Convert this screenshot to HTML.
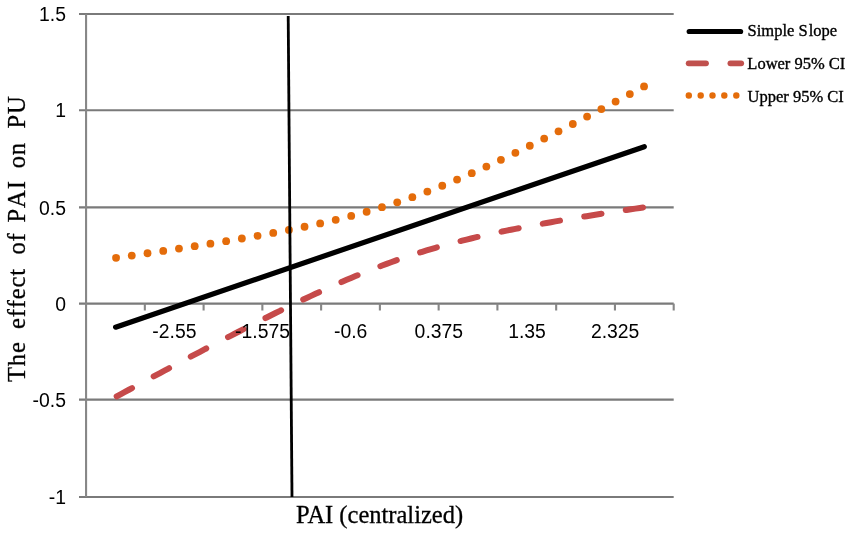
<!DOCTYPE html>
<html><head><meta charset="utf-8"><style>
html,body{margin:0;padding:0;background:#fff;}
body{width:851px;height:536px;overflow:hidden;}
svg{display:block;will-change:transform;}
.ax{font-family:"Liberation Sans",sans-serif;font-size:20.3px;fill:#000;}
.lg{font-family:"Liberation Serif",serif;font-size:16.5px;fill:#000;stroke:#000;stroke-width:0.35px;}
.ti{font-family:"Liberation Serif",serif;font-size:24.3px;fill:#000;stroke:#000;stroke-width:0.3px;}
.yt{letter-spacing:0.8px;font-kerning:none;font-size:24.6px}
</style></head><body>
<svg width="851" height="536" viewBox="0 0 851 536">
<rect width="851" height="536" fill="#fff"/>
<line x1="79" y1="13.97" x2="673.7" y2="13.97" stroke="#7a7a7a" stroke-width="2.1"/>
<line x1="79" y1="110.32" x2="673.7" y2="110.32" stroke="#7a7a7a" stroke-width="2.1"/>
<line x1="79" y1="207.41" x2="673.7" y2="207.41" stroke="#7a7a7a" stroke-width="2.1"/>
<line x1="79" y1="303.6" x2="673.7" y2="303.6" stroke="#7a7a7a" stroke-width="2.1"/>
<line x1="79" y1="399.66" x2="673.7" y2="399.66" stroke="#7a7a7a" stroke-width="2.1"/>
<line x1="79" y1="497.0" x2="673.7" y2="497.0" stroke="#7a7a7a" stroke-width="2.1"/>
<line x1="86.07" y1="13.97" x2="86.07" y2="497.0" stroke="#878787" stroke-width="2.1"/>
<line x1="144.83" y1="303.6" x2="144.83" y2="310.5" stroke="#878787" stroke-width="2.1"/>
<line x1="203.60" y1="303.6" x2="203.60" y2="310.5" stroke="#878787" stroke-width="2.1"/>
<line x1="262.36" y1="303.6" x2="262.36" y2="310.5" stroke="#878787" stroke-width="2.1"/>
<line x1="321.12" y1="303.6" x2="321.12" y2="310.5" stroke="#878787" stroke-width="2.1"/>
<line x1="379.89" y1="303.6" x2="379.89" y2="310.5" stroke="#878787" stroke-width="2.1"/>
<line x1="438.65" y1="303.6" x2="438.65" y2="310.5" stroke="#878787" stroke-width="2.1"/>
<line x1="497.41" y1="303.6" x2="497.41" y2="310.5" stroke="#878787" stroke-width="2.1"/>
<line x1="556.17" y1="303.6" x2="556.17" y2="310.5" stroke="#878787" stroke-width="2.1"/>
<line x1="614.94" y1="303.6" x2="614.94" y2="310.5" stroke="#878787" stroke-width="2.1"/>
<line x1="673.70" y1="303.6" x2="673.70" y2="310.5" stroke="#878787" stroke-width="2.1"/>
<path d="M115.60,396.95 L120.04,394.55 L124.49,392.15 L128.93,389.75 L133.37,387.35 L137.81,384.95 L142.26,382.56 L146.70,380.17 L151.14,377.79 L155.59,375.40 L160.03,373.02 L164.47,370.65 L168.91,368.27 L173.36,365.91 L177.80,363.54 L182.24,361.18 L186.69,358.82 L191.13,356.47 L195.57,354.13 L200.01,351.78 L204.46,349.45 L208.90,347.12 L213.34,344.79 L217.79,342.47 L222.23,340.16 L226.67,337.85 L231.11,335.55 L235.56,333.26 L240.00,330.98 L244.44,328.70 L248.89,326.43 L253.33,324.17 L257.77,321.92 L262.21,319.68 L266.66,317.45 L271.10,315.24 L275.54,313.03 L279.99,310.83 L284.43,308.65 L288.87,306.48 L293.31,304.33 L297.76,302.19 L302.20,300.06 L306.64,297.96 L311.09,295.87 L315.53,293.79 L319.97,291.74 L324.41,289.71 L328.86,287.69 L333.30,285.70 L337.74,283.74 L342.19,281.79 L346.63,279.87 L351.07,277.98 L355.51,276.11 L359.96,274.27 L364.40,272.46 L368.84,270.68 L373.29,268.93 L377.73,267.21 L382.17,265.52 L386.61,263.86 L391.06,262.24 L395.50,260.65 L399.94,259.09 L404.39,257.56 L408.83,256.07 L413.27,254.61 L417.71,253.19 L422.16,251.80 L426.60,250.44 L431.04,249.11 L435.49,247.81 L439.93,246.54 L444.37,245.31 L448.81,244.10 L453.26,242.92 L457.70,241.77 L462.14,240.64 L466.59,239.54 L471.03,238.46 L475.47,237.41 L479.91,236.38 L484.36,235.37 L488.80,234.38 L493.24,233.41 L497.69,232.45 L502.13,231.52 L506.57,230.60 L511.01,229.70 L515.46,228.82 L519.90,227.94 L524.34,227.09 L528.79,226.24 L533.23,225.41 L537.67,224.59 L542.11,223.78 L546.56,222.98 L551.00,222.19 L555.44,221.41 L559.89,220.64 L564.33,219.88 L568.77,219.13 L573.21,218.38 L577.66,217.65 L582.10,216.92 L586.54,216.19 L590.99,215.47 L595.43,214.76 L599.87,214.06 L604.31,213.36 L608.76,212.66 L613.20,211.97 L617.64,211.29 L622.09,210.61 L626.53,209.94 L630.97,209.26 L635.41,208.60 L639.86,207.93 L644.30,207.28" fill="none" stroke="#C64A4A" stroke-width="6" stroke-linecap="round" stroke-dasharray="17.5 24.54" stroke-dashoffset="-1.2"/>
<g fill="#E46C0A"><circle cx="116.05" cy="257.78" r="3.9"/><circle cx="131.78" cy="255.54" r="3.9"/><circle cx="147.51" cy="253.26" r="3.9"/><circle cx="163.24" cy="250.95" r="3.9"/><circle cx="178.97" cy="248.59" r="3.9"/><circle cx="194.69" cy="246.17" r="3.9"/><circle cx="210.42" cy="243.70" r="3.9"/><circle cx="226.14" cy="241.15" r="3.9"/><circle cx="241.85" cy="238.52" r="3.9"/><circle cx="257.55" cy="235.79" r="3.9"/><circle cx="273.24" cy="232.93" r="3.9"/><circle cx="288.91" cy="229.93" r="3.9"/><circle cx="304.55" cy="226.77" r="3.9"/><circle cx="320.15" cy="223.40" r="3.9"/><circle cx="335.71" cy="219.79" r="3.9"/><circle cx="351.21" cy="215.92" r="3.9"/><circle cx="366.64" cy="211.73" r="3.9"/><circle cx="381.98" cy="207.22" r="3.9"/><circle cx="397.22" cy="202.36" r="3.9"/><circle cx="412.35" cy="197.15" r="3.9"/><circle cx="427.37" cy="191.60" r="3.9"/><circle cx="442.27" cy="185.73" r="3.9"/><circle cx="457.07" cy="179.58" r="3.9"/><circle cx="471.77" cy="173.19" r="3.9"/><circle cx="486.38" cy="166.58" r="3.9"/><circle cx="500.92" cy="159.78" r="3.9"/><circle cx="515.39" cy="152.84" r="3.9"/><circle cx="529.81" cy="145.77" r="3.9"/><circle cx="544.18" cy="138.59" r="3.9"/><circle cx="558.52" cy="131.33" r="3.9"/><circle cx="572.82" cy="123.98" r="3.9"/><circle cx="587.10" cy="116.58" r="3.9"/><circle cx="601.36" cy="109.11" r="3.9"/><circle cx="615.60" cy="101.60" r="3.9"/><circle cx="629.83" cy="94.05" r="3.9"/><circle cx="644.05" cy="86.46" r="3.9"/></g>
<line x1="115.6" y1="327.2" x2="644.3" y2="146.7" stroke="#000" stroke-width="5.2" stroke-linecap="round"/>
<line x1="288.2" y1="16" x2="292" y2="497" stroke="#000" stroke-width="2.8"/>
<text transform="translate(66,21.07) scale(0.955,1)" text-anchor="end" class="ax">1.5</text>
<text transform="translate(66,117.42) scale(0.955,1)" text-anchor="end" class="ax">1</text>
<text transform="translate(66,214.51) scale(0.955,1)" text-anchor="end" class="ax">0.5</text>
<text transform="translate(66,310.70) scale(0.955,1)" text-anchor="end" class="ax">0</text>
<text transform="translate(66,406.76) scale(0.955,1)" text-anchor="end" class="ax">-0.5</text>
<text transform="translate(66,504.10) scale(0.955,1)" text-anchor="end" class="ax">-1</text>
<text transform="translate(174.40,338.1) scale(0.955,1)" text-anchor="middle" class="ax">-2.55</text>
<text transform="translate(262.55,338.1) scale(0.955,1)" text-anchor="middle" class="ax">-1.575</text>
<text transform="translate(350.70,338.1) scale(0.955,1)" text-anchor="middle" class="ax">-0.6</text>
<text transform="translate(438.85,338.1) scale(0.955,1)" text-anchor="middle" class="ax">0.375</text>
<text transform="translate(527.00,338.1) scale(0.955,1)" text-anchor="middle" class="ax">1.35</text>
<text transform="translate(615.15,338.1) scale(0.955,1)" text-anchor="middle" class="ax">2.325</text>
<line x1="689.2" y1="31.5" x2="740.6" y2="31.5" stroke="#000" stroke-width="5.2" stroke-linecap="round"/>
<line x1="688.7" y1="63.3" x2="706" y2="63.3" stroke="#C0504D" stroke-width="5.8" stroke-linecap="round"/>
<line x1="730.4" y1="63.3" x2="741.2" y2="63.3" stroke="#C0504D" stroke-width="5.8" stroke-linecap="round"/>
<circle cx="688.8" cy="95.5" r="3.2" fill="#E46C0A"/>
<circle cx="700.7" cy="95.5" r="3.2" fill="#E46C0A"/>
<circle cx="712.5" cy="95.5" r="3.2" fill="#E46C0A"/>
<circle cx="724.3" cy="95.5" r="3.2" fill="#E46C0A"/>
<circle cx="736.3" cy="95.5" r="3.2" fill="#E46C0A"/>
<text x="747.6" y="36.2" class="lg">Simple S<tspan dx="1">lope</tspan></text>
<text x="747.3" y="69.1" class="lg">Lower 95% CI</text>
<text x="747.6" y="101.6" class="lg">Upper 95% CI</text>
<text x="296" y="523.3" class="ti" style="font-size:24.5px">PAI (centralized)</text>
<text transform="rotate(-90)" x="-361.65" y="25.1" text-anchor="middle" class="ti yt">The</text>
<text transform="rotate(-90)" x="-298.50" y="25.1" text-anchor="middle" class="ti yt">effect</text>
<text transform="rotate(-90)" x="-243.45" y="25.1" text-anchor="middle" class="ti yt">of</text>
<text transform="rotate(-90)" x="-201.40" y="25.1" text-anchor="middle" class="ti yt">PAI</text>
<text transform="rotate(-90)" x="-155.20" y="25.1" text-anchor="middle" class="ti yt">on</text>
<text transform="rotate(-90)" x="-111.90" y="25.1" text-anchor="middle" class="ti yt">PU</text>
</svg>
</body></html>
